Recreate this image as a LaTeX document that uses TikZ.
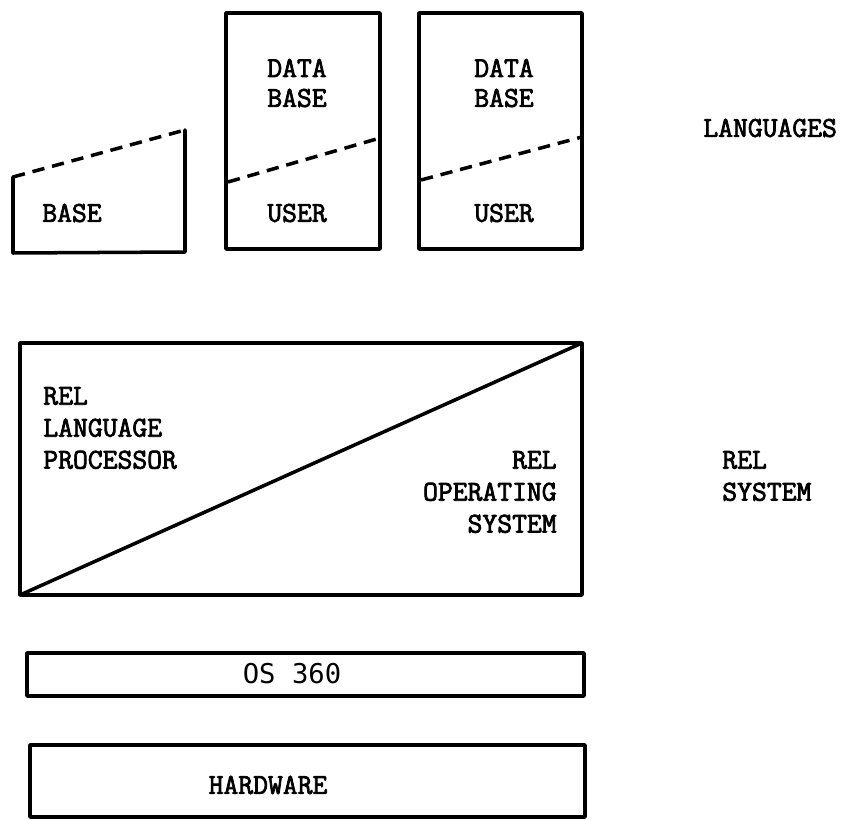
\documentclass[tikz,border=0pt]{standalone}
\usepackage{fontspec}
\newfontfamily\typefont{Latin Modern Mono}[FakeBold=2.6]
\newfontfamily\gothicfont{DejaVu Sans Mono}
\usepackage{tikz}
\usetikzlibrary{positioning}
\tikzset{
  frame/.style = {line width=2pt, line join=round, line cap=round},
  split/.style = {line width=2pt, dash pattern=on 7pt off 4.5pt},
  label/.style = {inner sep=0pt, font=\typefont\fontsize{16.4}{18.2}\selectfont},
}

\begin{document}
\begin{tikzpicture}[x=0.02cm,y=-0.02cm]
  \useasboundingbox (0,0) rectangle (851,820);

  % language boxes
  \draw[split] (13,177) -- (185,130);
  \draw[frame] (185,130) -- (185,252) -- (13,253) -- (13,177);
  \node[label] (base) at (72,213) {BASE};

  \draw[frame] (226,13) rectangle (380,249);
  \draw[split] (228,182) -- (380,138);
  \node[label] (data1) at (297,68) {DATA};
  \node[label] (dbase1) at (297,98) {BASE};
  \node[label] (user1) at (297,213) {USER};

  \draw[frame] (419,13) rectangle (582,249);
  \draw[split] (421,180) -- (582,137);
  \node[label] (data2) at (504,68) {DATA};
  \node[label] (dbase2) at (504,98) {BASE};
  \node[label] (user2) at (504,213) {USER};

  \node[label,anchor=west] (lang) at (703,128) {LANGUAGES};

  % REL system
  \draw[frame] (20,343) rectangle (582,595);
  \draw[frame] (20,595) -- (582,343);
  \node[label,anchor=west,align=left] (proc) at (43,428) {REL\\LANGUAGE\\PROCESSOR};
  \node[label,anchor=east,align=right] (opsys) at (557,492) {REL\\OPERATING\\SYSTEM};
  \node[label,anchor=west,align=left] (relsys) at (722,476) {REL\\SYSTEM};

  % lower layers
  \draw[frame] (27,653) rectangle (584,696);
  \node[inner sep=0pt,font=\gothicfont\fontsize{15.5}{18}\selectfont] (os) at (292,674) {OS 360};

  \draw[frame] (30,745) rectangle (585,817);
  \node[label] (hw) at (268,785) {HARDWARE};
\end{tikzpicture}
\end{document}
